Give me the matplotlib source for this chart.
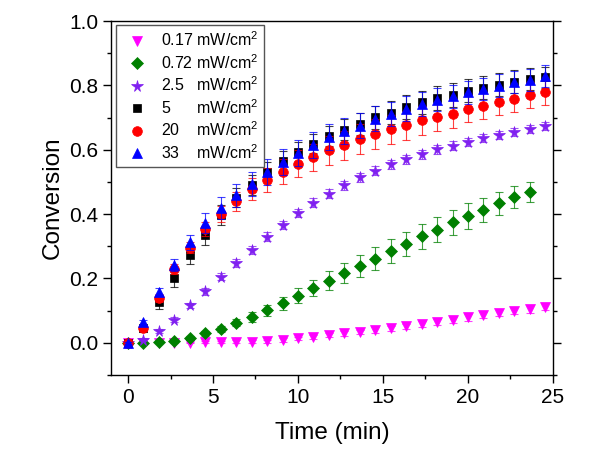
import numpy as np
import matplotlib
matplotlib.use("Agg")
import matplotlib.pyplot as plt
from matplotlib.ticker import MultipleLocator

plt.rcParams["font.family"] = ["Liberation Sans", "DejaVu Sans"]
plt.rcParams["mathtext.fontset"] = "custom"
plt.rcParams["mathtext.rm"] = "Liberation Sans"
plt.rcParams["mathtext.it"] = "Liberation Sans"
plt.rcParams["mathtext.default"] = "regular"

# sampling times (min)
time_min = [0, 0.91, 1.82, 2.73, 3.64, 4.55, 5.45, 6.36, 7.27, 8.18, 9.09, 10.0, 10.91, 11.82,
            12.73, 13.64, 14.55, 15.45, 16.36, 17.27, 18.18, 19.09, 20.0, 20.91, 21.82, 22.73,
            23.64, 24.55]

# conversion for each light intensity
conv_017 = [0, 0, 0, 0, 0.001, 0.002, 0.003, 0.004, 0.004, 0.005, 0.009, 0.014, 0.018, 0.024,
            0.029, 0.033, 0.040, 0.045, 0.051, 0.058, 0.065, 0.072, 0.079, 0.087, 0.094, 0.100,
            0.105, 0.112]
conv_072 = [0, 0, 0.002, 0.007, 0.015, 0.030, 0.043, 0.063, 0.081, 0.101, 0.123, 0.147, 0.170,
            0.193, 0.217, 0.239, 0.262, 0.286, 0.307, 0.331, 0.352, 0.374, 0.393, 0.413, 0.434,
            0.452, 0.469]
conv_25 = [0, 0.010, 0.036, 0.072, 0.116, 0.160, 0.205, 0.247, 0.288, 0.330, 0.367, 0.403, 0.436,
           0.464, 0.490, 0.515, 0.534, 0.555, 0.570, 0.586, 0.601, 0.613, 0.624, 0.637, 0.646,
           0.656, 0.664, 0.673]
conv_5 = [0, 0.045, 0.126, 0.200, 0.272, 0.334, 0.397, 0.451, 0.490, 0.532, 0.565, 0.593, 0.619,
          0.643, 0.662, 0.679, 0.701, 0.715, 0.732, 0.747, 0.760, 0.770, 0.783, 0.793, 0.802,
          0.812, 0.820, 0.825]
conv_20 = [0, 0.046, 0.140, 0.229, 0.296, 0.353, 0.400, 0.440, 0.479, 0.507, 0.532, 0.556, 0.576,
           0.598, 0.614, 0.633, 0.648, 0.663, 0.676, 0.692, 0.702, 0.712, 0.727, 0.737, 0.748,
           0.759, 0.769, 0.778]
conv_33 = [0, 0.064, 0.159, 0.242, 0.312, 0.372, 0.419, 0.459, 0.494, 0.530, 0.562, 0.590, 0.615,
           0.639, 0.658, 0.675, 0.697, 0.711, 0.728, 0.743, 0.756, 0.766, 0.779, 0.789, 0.799,
           0.810, 0.818, 0.830]

# standard deviations
err_017 = [0.002, 0.002, 0.002, 0.002, 0.003, 0.003, 0.003, 0.004, 0.004, 0.004, 0.005, 0.005,
           0.006, 0.006, 0.007, 0.007, 0.008, 0.008, 0.008, 0.009, 0.009, 0.009, 0.010, 0.010,
           0.010, 0.011, 0.011, 0.011]
err_072 = [0.002, 0.003, 0.004, 0.005, 0.006, 0.008, 0.010, 0.012, 0.016, 0.018, 0.020, 0.023,
           0.025, 0.029, 0.031, 0.033, 0.035, 0.037, 0.037, 0.038, 0.038, 0.040, 0.040, 0.038,
           0.036, 0.034, 0.032]
err_25 = [0.002, 0.005, 0.007, 0.008, 0.009, 0.010, 0.011, 0.012, 0.012, 0.013, 0.013, 0.013,
          0.013, 0.013, 0.014, 0.014, 0.014, 0.014, 0.014, 0.014, 0.014, 0.013, 0.013, 0.013,
          0.013, 0.012, 0.012, 0.012]
err_5 = [0.002, 0.010, 0.022, 0.025, 0.028, 0.030, 0.030, 0.030, 0.030, 0.030, 0.030, 0.030,
         0.030, 0.032, 0.033, 0.034, 0.035, 0.036, 0.037, 0.037, 0.037, 0.037, 0.036, 0.036,
         0.035, 0.035, 0.034, 0.033]
err_20 = [0.002, 0.008, 0.012, 0.015, 0.018, 0.022, 0.026, 0.030, 0.034, 0.037, 0.040, 0.042,
          0.043, 0.044, 0.045, 0.046, 0.047, 0.046, 0.045, 0.045, 0.044, 0.043, 0.042, 0.042,
          0.041, 0.041, 0.040, 0.040]
err_33 = [0.003, 0.008, 0.012, 0.018, 0.024, 0.030, 0.033, 0.036, 0.038, 0.040, 0.040, 0.040,
          0.040, 0.040, 0.040, 0.039, 0.039, 0.038, 0.038, 0.037, 0.037, 0.036, 0.036, 0.035,
          0.035, 0.034, 0.034, 0.034]

labels = ["0.17 mW/cm$^2$", "0.72 mW/cm$^2$", "2.5   mW/cm$^2$", "5      mW/cm$^2$",
          "20    mW/cm$^2$", "33    mW/cm$^2$"]

series = [
    (conv_017, err_017, "v", "#FF00FF", 7.5),
    (conv_072, err_072, "D", "#008000", 6.0),
    (conv_25, err_25, "*", "#8020F0", 8.5),
    (conv_5, err_5, "s", "black", 6.0),
    (conv_20, err_20, "o", "#FF0000", 7.0),
    (conv_33, err_33, "^", "#0000FF", 7.5),
]

fig = plt.figure(figsize=(6.01, 4.54), dpi=100)
ax = fig.add_axes([0.1847, 0.174, 0.7354, 0.7797])

for (y, err, marker, color, ms), label in zip(series, labels):
    t = time_min[:len(y)]
    ax.errorbar(t, y, yerr=err, fmt="none", ecolor=color, elinewidth=0.8, capsize=3,
                capthick=0.8, alpha=0.75)
    ax.plot(t, y, ls="none", marker=marker, color=color, markersize=ms,
            markeredgewidth=0.5, label=label)

ax.set_xlim(-1, 25)
ax.set_ylim(-0.1, 1.0)
ax.xaxis.set_major_locator(MultipleLocator(5))
ax.xaxis.set_minor_locator(MultipleLocator(2.5))
ax.yaxis.set_major_locator(MultipleLocator(0.2))
ax.yaxis.set_minor_locator(MultipleLocator(0.1))
ax.tick_params(which="both", direction="out", right=True, top=False, labelsize=15, width=1)
ax.tick_params(which="major", length=5.5)
ax.tick_params(which="minor", length=3)
for sp in ax.spines.values():
    sp.set_linewidth(1.0)

ax.set_xlabel("Time (min)", fontsize=17.5, labelpad=11)
ax.set_ylabel("Conversion", fontsize=17.5)

leg = ax.legend(loc="upper left", bbox_to_anchor=(0.011, 0.989), borderaxespad=0,
                fontsize=11.5, fancybox=False, edgecolor="#555555", framealpha=1,
                handlelength=2.0, handletextpad=0.45, labelspacing=0.24, borderpad=0.35)
leg.get_frame().set_linewidth(1.0)

fig.savefig("out.png", dpi=100, facecolor="white")
